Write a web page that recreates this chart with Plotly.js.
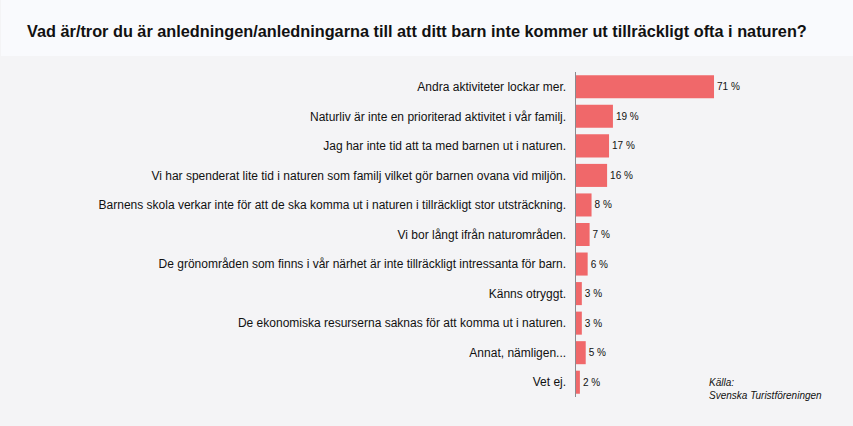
<!DOCTYPE html>
<html>
<head>
<meta charset="utf-8">
<script src="https://cdn.plot.ly/plotly-3.0.1.min.js"></script>
<style>html,body{margin:0;padding:0;background:#f4f4f6;}#chart{width:853px;height:426px;}</style>
</head>
<body>
<div id="chart"></div>
<script>
const titleText = "Vad är/tror du är anledningen/anledningarna till att ditt barn inte kommer ut tillräckligt ofta i naturen?";
const categories = [
  "Andra aktiviteter lockar mer.",
  "Naturliv är inte en prioriterad aktivitet i vår familj.",
  "Jag har inte tid att ta med barnen ut i naturen.",
  "Vi har spenderat lite tid i naturen som familj vilket gör barnen ovana vid miljön.",
  "Barnens skola verkar inte för att de ska komma ut i naturen i tillräckligt stor utsträckning.",
  "Vi bor långt ifrån naturområden.",
  "De grönområden som finns i vår närhet är inte tillräckligt intressanta för barn.",
  "Känns otryggt.",
  "De ekonomiska resurserna saknas för att komma ut i naturen.",
  "Annat, nämligen...",
  "Vet ej."
];
const values = [71, 19, 17, 16, 8, 7, 6, 3, 3, 5, 2];
const sourceLines = ["Källa:", "Svenska Turistföreningen"];

const W = 853, H = 426;
const mL = 576, mR = 20, mT = 72, mB = 29;
const plotH = H - mT - mB;
const pyToPaper = py => (H - mB - py) / plotH;
const pxToPaper = px => (px - mL) / (W - mL - mR);

const trace = {
  type: 'bar',
  orientation: 'h',
  y: categories,
  x: values,
  marker: {color: '#f0686a'},
  text: values.map(v => v + ' %'),
  textposition: 'outside',
  textfont: {family: 'Liberation Sans, Arial, sans-serif', size: 10, color: '#111'},
  cliponaxis: false,
  hoverinfo: 'none',
  width: 0.78
};

const layout = {
  width: W, height: H,
  margin: {l: mL, r: mR, t: mT, b: mB},
  paper_bgcolor: '#f4f4f6',
  plot_bgcolor: 'rgba(0,0,0,0)',
  showlegend: false,
  title: {
    text: '<b>' + titleText + '</b>',
    font: {family: 'Liberation Sans, Arial, sans-serif', size: 16.3, color: '#111'},
    xref: 'container', yref: 'container',
    x: 27 / W, xanchor: 'left',
    y: 1 - 31 / H, yanchor: 'middle'
  },
  xaxis: {
    range: [0, (W - mL - mR) / 1.944],
    visible: false,
    fixedrange: true
  },
  yaxis: {
    type: 'category',
    autorange: 'reversed',
    showline: true,
    linecolor: '#8a8a90',
    linewidth: 1.5,
    showgrid: false,
    zeroline: false,
    ticks: '',
    ticklabelstandoff: 6,
    tickfont: {family: 'Liberation Sans, Arial, sans-serif', size: 12, color: '#111'}
  },
  shapes: [{
    type: 'rect', xref: 'paper', yref: 'paper',
    x0: pxToPaper(1), x1: pxToPaper(W), y0: pyToPaper(56), y1: pyToPaper(0),
    fillcolor: '#f9fafd', line: {width: 0}, layer: 'below'
  }],
  annotations: sourceLines.map((t, i) => ({
    text: '<i>' + t + '</i>',
    xref: 'paper', yref: 'paper',
    x: pxToPaper(707), xanchor: 'left',
    y: pyToPaper(382 + i * 13), yanchor: 'middle',
    showarrow: false,
    font: {family: 'Liberation Sans, Arial, sans-serif', size: 10, color: '#111'}
  }))
};

Plotly.newPlot('chart', [trace], layout, {displayModeBar: false, staticPlot: true});
</script>
</body>
</html>
